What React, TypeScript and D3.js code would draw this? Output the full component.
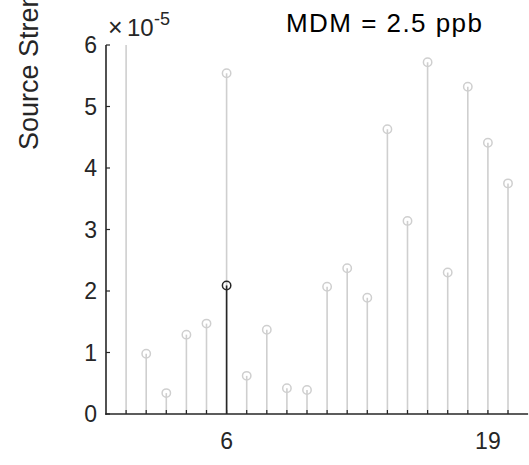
import React from "react";
import * as d3 from "d3";

const W = 529;
const H = 465;

// stem positions and values (×10^-5)
const indices = [1, 2, 3, 4, 5, 6, 7, 8, 9, 10, 11, 12, 13, 14, 15, 16, 17, 18, 19, 20];
const values = [7.5, 0.98, 0.34, 1.29, 1.47, 5.54, 0.62, 1.37, 0.42, 0.39, 2.07, 2.37, 1.89, 4.63, 3.14, 5.72, 2.3, 5.32, 4.41, 3.75];
const highlightIndex = [6];
const highlightValue = [2.09];
const yTicks = [0, 1, 2, 3, 4, 5, 6];
const xTickLabels = [6, 19];
const titleText = "MDM = 2.5 ppb";
const yLabelText = "Source Strength";

export default function App() {
  const x = d3.scaleLinear().domain([0, 21]).range([106, 528.1]);
  const y = d3.scaleLinear().domain([0, 6]).range([414, 45]);
  const axisColor = "#262626";
  const font = "'Liberation Sans', Arial, Helvetica, sans-serif";
  const gray = "#cfcfcf";
  return (
    <svg
      width={W}
      height={H}
      style={{ position: "absolute", left: 0, top: 0, background: "#fff" }}
      fontFamily={font}
    >
      <defs>
        <clipPath id="plotclip">
          <rect x={x(0)} y={y(6)} width={x(21) - x(0)} height={y(0) - y(6)} />
        </clipPath>
      </defs>
      <g clipPath="url(#plotclip)">
        {indices.map((d, i) => (
          <line
            key={"s" + i}
            x1={x(d)}
            x2={x(d)}
            y1={y(0)}
            y2={y(values[i])}
            stroke={gray}
            strokeWidth={1.6}
          />
        ))}
        {indices.map((d, i) => (
          <circle
            key={"c" + i}
            cx={x(d)}
            cy={y(values[i])}
            r={4.2}
            fill="none"
            stroke={gray}
            strokeWidth={1.5}
          />
        ))}
        {highlightIndex.map((d, i) => (
          <g key={"h" + i}>
            <line x1={x(d)} x2={x(d)} y1={y(0)} y2={y(highlightValue[i])} stroke={axisColor} strokeWidth={1.6} />
            <circle cx={x(d)} cy={y(highlightValue[i])} r={4.2} fill="none" stroke={axisColor} strokeWidth={1.5} />
          </g>
        ))}
      </g>
      {/* axes */}
      <line x1={x(0)} x2={x(0)} y1={y(0) + 0.8} y2={y(6)} stroke={axisColor} strokeWidth={1.6} />
      <line x1={x(0) - 0.8} x2={x(21)} y1={y(0)} y2={y(0)} stroke={axisColor} strokeWidth={1.6} />
      {yTicks.map((t) => (
        <g key={"yt" + t}>
          <line x1={x(0)} x2={x(0) + 4} y1={y(t)} y2={y(t)} stroke={axisColor} strokeWidth={1.2} />
          <text x={97} y={y(t)} dy="0.35em" textAnchor="end" fontSize={23} fill={axisColor}>
            {t}
          </text>
        </g>
      ))}
      {indices.map((d) => (
        <line key={"xt" + d} x1={x(d)} x2={x(d)} y1={y(0)} y2={y(0) - 4} stroke={axisColor} strokeWidth={1.2} />
      ))}
      {xTickLabels.map((t) => (
        <text key={"xl" + t} x={x(t)} y={449} textAnchor="middle" fontSize={23} fill={axisColor}>
          {t}
        </text>
      ))}
      {/* exponent */}
      <text y={36} fontSize={24} fill={axisColor}>
        <tspan x={108} fontSize={25} fontWeight={300}>×</tspan>
        <tspan x={127}>10</tspan>
        <tspan x={154} dy={-11} fontSize={18}>-5</tspan>
      </text>
      {/* title */}
      <text x={286} y={32} fontSize={26} fill="#000" textLength={196} lengthAdjust="spacing">
        {titleText}
      </text>
      {/* y label */}
      <text transform="translate(38,150) rotate(-90)" fontSize={27} fill={axisColor}>
        {yLabelText}
      </text>
    </svg>
  );
}
